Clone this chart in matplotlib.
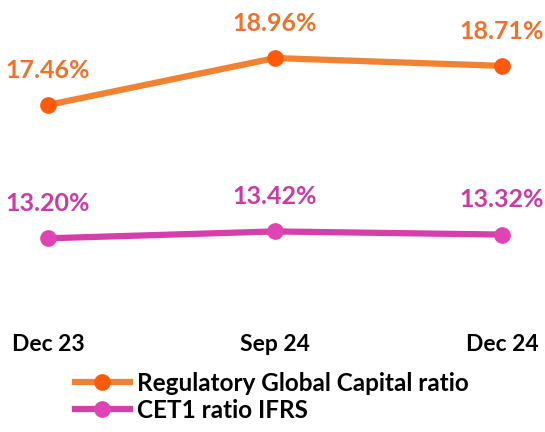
import matplotlib
matplotlib.use("Agg")
import matplotlib.pyplot as plt

periods = ["Dec 23", "Sep 24", "Dec 24"]
global_capital = [17.46, 18.96, 18.71]
cet1 = [13.20, 13.42, 13.32]

orange = "#F08232"
orange_txt = "#F0712C"
magenta = "#D43FAC"
magenta_txt = "#CC3AA4"

plt.rcParams["font.family"] = ["Lato", "DejaVu Sans"]

fig = plt.figure(figsize=(5.45, 4.32), dpi=100)
ax = fig.add_axes([0, 1 - 320 / 432, 1, 320 / 432])
x = list(range(len(periods)))

ax.plot(x, global_capital, color=orange, lw=4.5, marker="o", ms=11,
        mfc="#FF5A0A", mec="#FF5A0A", label="Regulatory Global Capital ratio")
ax.plot(x, cet1, color=magenta, lw=4.5, marker="o", ms=11,
        mfc="#E044B4", mec="#E044B4", label="CET1 ratio IFRS")

for xi, v in zip(x, global_capital):
    ax.annotate(f"{v:.2f}%", (xi, v), xytext=(0, 25), textcoords="offset points",
                ha="center", va="center", color=orange_txt, fontsize=18, fontweight="bold")
for xi, v in zip(x, cet1):
    ax.annotate(f"{v:.2f}%", (xi, v), xytext=(0, 25), textcoords="offset points",
                ha="center", va="center", color=magenta_txt, fontsize=18, fontweight="bold")

ax.set_xlim(-0.211, 2.189)
ax.set_ylim(10.59, 20.815)
ax.set_xticks(x)
ax.set_xticklabels(periods, fontsize=16.5, fontweight="bold")
ax.tick_params(axis="x", length=0, pad=10)
ax.set_yticks([])
for s in ax.spines.values():
    s.set_visible(False)

fig.legend(loc="upper left", bbox_to_anchor=(75 / 545, 1 - 372 / 432), frameon=False,
           prop={"size": 17.5, "weight": "bold"}, handlelength=2.26,
           labelspacing=0.15, handletextpad=0.3, borderpad=0, borderaxespad=0)

fig.savefig("out.png", dpi=100)
